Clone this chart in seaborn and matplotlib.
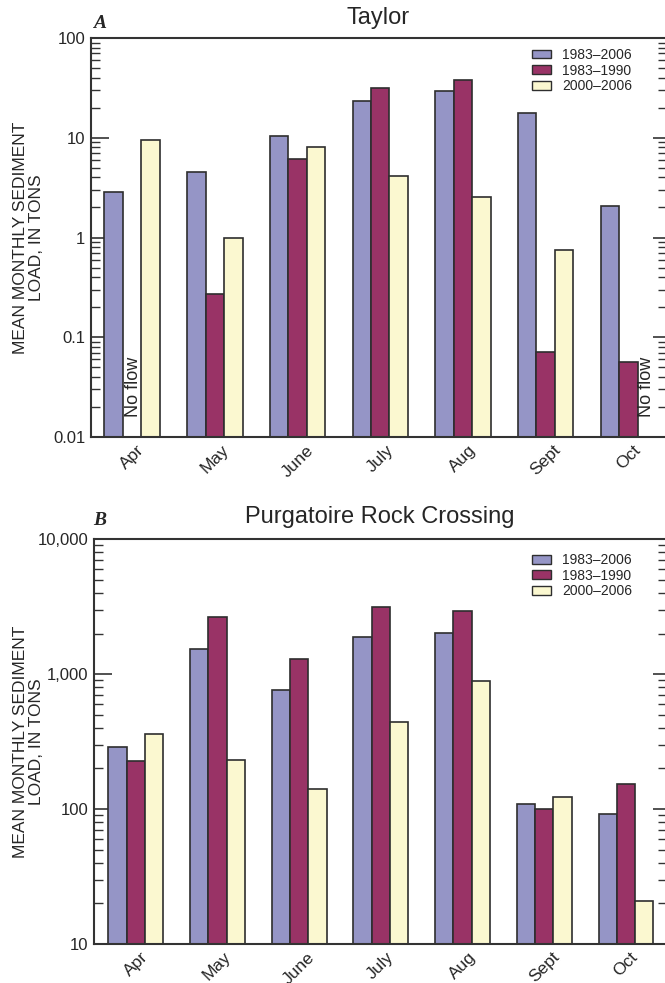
import numpy as np
import pandas as pd
import matplotlib
matplotlib.use("Agg")
import matplotlib.pyplot as plt
from matplotlib.patches import Patch
from matplotlib.ticker import LogLocator, NullFormatter
import seaborn as sns

months = ['Apr', 'May', 'June', 'July', 'Aug', 'Sept', 'Oct']
periods = ['1983–2006', '1983–1990', '2000–2006']
colors = ['#9595c6', '#993366', '#fbf8d0']

taylor_1983_2006 = [2.84, 4.54, 10.5, 23.4, 29.6, 17.8, 2.06]
taylor_1983_1990 = [np.nan, 0.27, 6.1, 31.8, 37.9, 0.071, 0.057]
taylor_2000_2006 = [9.5, 1.0, 8.07, 4.17, 2.55, 0.755, np.nan]

purg_1983_2006 = [290, 1530, 760, 1877, 2030, 110, 91.5]
purg_1983_1990 = [227, 2670, 1300, 3130, 2940, 100, 153]
purg_2000_2006 = [360, 231, 140, 440, 890, 123, 20.7]

taylor_ticks = [0.01, 0.1, 1, 10, 100]
taylor_ticklabels = ['0.01', '0.1', '1', '10', '100']
purg_ticks = [10, 100, 1000, 10000]
purg_ticklabels = ['10', '100', '1,000', '10,000']

ylabel = 'MEAN MONTHLY SEDIMENT\nLOAD, IN TONS'


def long_df(series):
    rows = []
    for p, vals in zip(periods, series):
        for m, v in zip(months, vals):
            rows.append({'month': m, 'period': p, 'load': v})
    return pd.DataFrame(rows).dropna()


df_taylor = long_df([taylor_1983_2006, taylor_1983_1990, taylor_2000_2006])
df_purg = long_df([purg_1983_2006, purg_1983_1990, purg_2000_2006])

sns.set_style('ticks')
plt.rcParams['font.family'] = ['Liberation Sans', 'DejaVu Sans']

W, H = 665, 983
fig = plt.figure(figsize=(W / 100, H / 100), dpi=100)
axA = fig.add_axes([91 / W, 1 - 437 / H, (W - 91) / W, 399 / H])
axB = fig.add_axes([94.3 / W, 1 - 944 / H, (W - 94.3) / W, 404.7 / H])

edge = '#2e2e2e'
spine_c = '#333333'


def draw(ax, df, ylim, ticks, ticklabels, xlim, title, title_pad, legend_y, label_x):
    sns.barplot(data=df, x='month', y='load', hue='period', order=months,
                hue_order=periods, palette=colors, width=0.67, saturation=1,
                edgecolor=edge, linewidth=1.2, errorbar=None, legend=False, ax=ax)
    ax.set_yscale('log')
    ax.set_ylim(*ylim)
    ax.set_xlim(*xlim)
    ax.set_yticks(ticks, ticklabels)
    ax.yaxis.set_minor_locator(LogLocator(base=10, subs=np.arange(2, 10)))
    ax.yaxis.set_minor_formatter(NullFormatter())
    ax.tick_params(axis='y', which='major', direction='in', length=13, width=1.2,
                   color=spine_c, labelsize=12, pad=4, right=False)
    ax.tick_params(axis='y', which='minor', direction='in', length=6.5, width=1.0,
                   color=spine_c, right=False)
    ax.tick_params(axis='x', length=0, labelsize=12.5, labelrotation=45, pad=4)
    for lab in ax.get_xticklabels():
        lab.set_ha('center')
    ax.set_xlabel('')
    ax.set_ylabel(ylabel, fontsize=12.5, linespacing=1.05)
    ax.yaxis.set_label_coords(label_x, 0.5)
    for s in ['left', 'top', 'bottom']:
        ax.spines[s].set_visible(True)
        ax.spines[s].set_linewidth(1.5)
        ax.spines[s].set_color(spine_c)
    ax.spines['right'].set_visible(False)
    ax.set_title(title, fontsize=17, pad=title_pad)

    ax2 = ax.twinx()
    ax2.set_yscale('log')
    ax2.set_ylim(*ylim)
    ax2.set_yticks(ticks)
    ax2.yaxis.set_minor_locator(LogLocator(base=10, subs=np.arange(2, 10)))
    ax2.yaxis.set_minor_formatter(NullFormatter())
    ax2.tick_params(axis='y', which='major', direction='in', length=9, width=1.2,
                    color=spine_c, labelright=False)
    ax2.tick_params(axis='y', which='minor', direction='in', length=5, width=1.0,
                    color=spine_c)
    for s in ax2.spines.values():
        s.set_visible(False)

    handles = [Patch(facecolor=c, edgecolor=edge, linewidth=1.0, label=p)
               for c, p in zip(colors, periods)]
    ax.legend(handles=handles, loc='upper right', bbox_to_anchor=(0.943, legend_y),
              frameon=False, fontsize=10, handlelength=1.4, handleheight=0.6,
              labelspacing=0.12, handletextpad=0.8, borderpad=0, borderaxespad=0)


draw(axA, df_taylor, (0.01, 100), taylor_ticks, taylor_ticklabels,
     (-0.498, 6.444), 'Taylor', 10, 0.975, -0.082)
draw(axB, df_purg, (10, 10000), purg_ticks, purg_ticklabels,
     (-0.507, 6.478), 'Purgatoire Rock Crossing', 12, 0.966, -0.088)

# No flow annotations
axA.text(0.02, 0.0158, 'No flow', rotation=90, ha='center', va='bottom', fontsize=13)
axA.text(6 + 0.67 / 3, 0.0158, 'No flow', rotation=90, ha='center', va='bottom', fontsize=13)

fig.text(93 / W, 1 - 28 / H, 'A', family='Liberation Serif', fontweight='bold',
         fontstyle='italic', fontsize=14, va='baseline')
fig.text(93 / W, 1 - 525 / H, 'B', family='Liberation Serif', fontweight='bold',
         fontstyle='italic', fontsize=14, va='baseline')

fig.savefig('out.png', dpi=100)
